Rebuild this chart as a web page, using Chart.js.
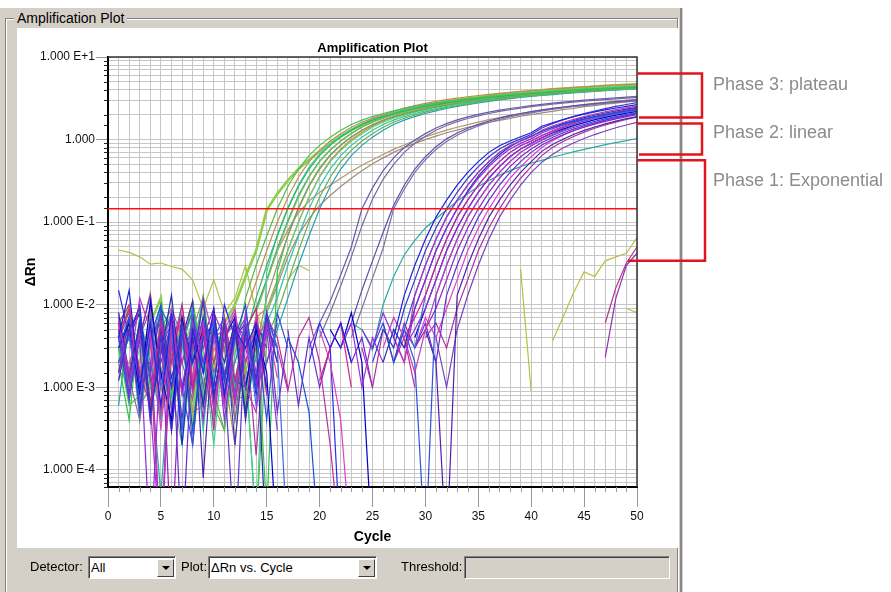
<!DOCTYPE html>
<html>
<head>
<meta charset="utf-8">
<title>Amplification Plot</title>
<script src="https://cdn.jsdelivr.net/npm/chart.js@4.4.1/dist/chart.umd.min.js"></script>
<style>
  html, body { margin: 0; padding: 0; background: #fff; }
  body { width: 891px; height: 592px; position: relative; overflow: hidden; font-family: Arial, "Liberation Sans", sans-serif; }
  .abs { position: absolute; }
  #panel { left: 0; top: 8px; width: 683px; height: 584px; background: #d4d0c8; }
  #panel-edge { left: 680px; top: 8px; width: 2px; height: 584px; background: #8a8884; }
  #group { left: 5px; top: 18px; width: 671px; height: 580px; border: 1px solid #808080; box-shadow: 1px 1px 0 #fff, inset 1px 1px 0 #fff; }
  #caption { left: 14px; top: 10px; padding: 0 3px; background: #d4d0c8; font-size: 14px; line-height: 16px; color: #000; }
  #plot-bg { left: 17px; top: 28px; width: 661px; height: 520px; background: #fff; }
  #chart { position: absolute; left: 0; top: 0; z-index: 1; }
  #title { left: 108px; top: 40px; width: 529px; text-align: center; font-weight: bold; font-size: 13px; z-index: 2; }
  .phase { left: 713px; font-size: 18px; color: #8c8c8c; z-index: 2; }
  .label { top: 558px; font-size: 13px; line-height: 18px; color: #000; z-index: 2; }
  .combo { top: 556px; height: 23px; box-sizing: border-box; background: #fff; border: 1px solid; border-color: #808080 #fff #fff #808080; box-shadow: inset 1px 1px 0 #404040; z-index: 2; }
  .combo span { position: absolute; left: 2px; top: 2px; font-size: 13px; line-height: 17px; }
  .btn { position: absolute; right: 1px; top: 2px; width: 17px; height: 18px; box-sizing: border-box; background: #d4d0c8; border: 1px solid; border-color: #fff #404040 #404040 #fff; }
  .btn::after { content: ''; position: absolute; left: 4px; top: 6px; border-left: 4px solid transparent; border-right: 4px solid transparent; border-top: 4px solid #000; }
  .field { top: 556px; height: 23px; box-sizing: border-box; background: #d4d0c8; border: 1px solid; border-color: #808080 #fff #fff #808080; box-shadow: inset 1px 1px 0 #404040; z-index: 2; }
</style>
</head>
<body>
<div class="abs" id="panel"></div>
<div class="abs" id="group"></div>
<div class="abs" id="panel-edge"></div>
<div class="abs" id="caption">Amplification Plot</div>
<div class="abs" id="plot-bg"></div>
<canvas id="chart" width="891" height="592"></canvas>
<div class="abs" id="title">Amplification Plot</div>
<div class="abs phase" style="top:74px">Phase 3: plateau</div>
<div class="abs phase" style="top:122px">Phase 2: linear</div>
<div class="abs phase" style="top:170px">Phase 1: Exponential</div>
<div class="abs label" style="left:30px">Detector:</div>
<div class="abs combo" style="left:88px;width:88px"><span>All</span><div class="btn"></div></div>
<div class="abs label" style="left:181px">Plot:</div>
<div class="abs combo" style="left:208px;width:169px"><span>ΔRn vs. Cycle</span><div class="btn"></div></div>
<div class="abs label" style="left:401px">Threshold:</div>
<div class="abs field" style="left:464px;width:206px"></div>
<script>
'use strict';

// ************************** DATA ****************************************** //
const cycles = [
  1, 2, 3, 4, 5, 6, 7, 8, 9, 10,
  11, 12, 13, 14, 15, 16, 17, 18, 19, 20,
  21, 22, 23, 24, 25, 26, 27, 28, 29, 30,
  31, 32, 33, 34, 35, 36, 37, 38, 39, 40,
  41, 42, 43, 44, 45, 46, 47, 48, 49, 50
];
const threshold = 0.145;
const yLogMin = 6.2e-5;
const yLogMax = 10;

// phase brackets (ΔRn values at top / bottom of each bracket)
const phaseNames = ['Phase 3: plateau', 'Phase 2: linear', 'Phase 1: Exponential'];
const phaseTop = [6.3, 1.56, 0.56];
const phaseBottom = [1.85, 0.66, 0.034];

// early samples (green group)
const g1 = [
  4e-3, 9e-3, 1.3e-3, 6e-3, 1.2e-2, 7e-4, 5e-3, 4e-4, 7e-3, 2e-3,
  6e-3, 1e-2, 2.2e-2, 4.5e-2, 0.14, 0.22, 0.32, 0.44, 0.57, 0.72,
  0.9, 1.1, 1.3, 1.5, 1.7, 1.9, 2.08, 2.25, 2.42, 2.58,
  2.73, 2.88, 3.02, 3.15, 3.28, 3.4, 3.52, 3.63, 3.74, 3.85,
  3.95, 4.05, 4.14, 4.23, 4.31, 4.39, 4.47, 4.54, 4.61, 4.68
];
const g2 = [
  3e-3, 6e-4, 8e-4, 4e-3, 1.5e-3, 6e-3, 3e-4, 1.1e-2, 2e-3, 9e-4,
  3e-4, 2.5e-3, 1.2e-2, 3e-2, 6.8e-2, 0.145, 0.27, 0.44, 0.64, 0.85,
  1.07, 1.3, 1.52, 1.72, 1.9, 2.07, 2.23, 2.38, 2.52, 2.65,
  2.78, 2.9, 3.02, 3.13, 3.23, 3.33, 3.42, 3.51, 3.6, 3.68,
  3.76, 3.84, 3.91, 3.98, 4.05, 4.12, 4.18, 4.24, 4.3, 4.36
];
const g3 = [
  6e-3, 1.3e-3, 4e-3, 1.4e-2, 9e-4, 2e-3, 8e-3, 5e-4, 6e-4, 3e-3,
  1.5e-3, 2e-4, 8e-3, 1.9e-2, 4.5e-2, 0.1, 0.2, 0.35, 0.54, 0.74,
  0.96, 1.18, 1.41, 1.62, 1.82, 2.0, 2.2, 2.4, 2.58, 2.75,
  2.9, 3.05, 3.18, 3.3, 3.42, 3.53, 3.63, 3.73, 3.83, 3.92,
  4.01, 4.1, 4.18, 4.26, 4.34, 4.42, 4.49, 4.56, 4.63, 4.7
];
const g4 = [
  2e-3, 7e-3, 6e-4, 1e-3, 5e-3, 9e-3, 4e-4, 2.5e-3, 1.3e-2, 1.2e-3,
  6e-3, 9e-4, 4e-3, 1.2e-2, 3e-2, 6.8e-2, 0.145, 0.27, 0.44, 0.64,
  0.85, 1.07, 1.3, 1.52, 1.72, 1.9, 2.07, 2.23, 2.38, 2.52,
  2.65, 2.78, 2.9, 3.02, 3.13, 3.23, 3.33, 3.42, 3.51, 3.6,
  3.68, 3.76, 3.84, 3.91, 3.98, 4.05, 4.12, 4.18, 4.24, 4.3
];
const g5 = [
  8e-3, 1.5e-3, 5e-3, 6e-4, 3e-3, 1e-3, 2e-4, 7e-3, 3e-3, 2e-4,
  4e-3, 1e-3, 2e-3, 2e-5, 2.5e-2, 7e-2, 0.15, 0.28, 0.46, 0.67,
  0.88, 1.1, 1.33, 1.55, 1.76, 1.95, 2.13, 2.3, 2.46, 2.61,
  2.75, 2.88, 3.01, 3.13, 3.24, 3.35, 3.45, 3.55, 3.64, 3.73,
  3.82, 3.9, 3.98, 4.06, 4.13, 4.2, 4.27, 4.34, 4.4, 4.46
];
const g6 = [
  5e-3, 1e-2, 1.4e-3, 7e-3, 5e-4, 2e-3, 3e-3, 6e-3, 8e-4, 8e-3,
  1.3e-3, 5e-3, 6e-4, 8e-3, 1.9e-2, 4.5e-2, 0.1, 0.2, 0.35, 0.54,
  0.74, 0.96, 1.18, 1.41, 1.62, 1.81, 1.98, 2.15, 2.3, 2.45,
  2.58, 2.71, 2.84, 2.96, 3.07, 3.18, 3.28, 3.37, 3.46, 3.55,
  3.64, 3.72, 3.8, 3.87, 3.94, 4.01, 4.08, 4.15, 4.21, 4.27
];
const g7 = [
  3e-3, 7e-4, 6e-3, 1.5e-3, 5e-5, 3e-3, 1e-2, 1.2e-3, 2e-3, 4e-4,
  7e-3, 1e-3, 5e-3, 9e-3, 2e-2, 4.8e-2, 0.105, 0.21, 0.36, 0.55,
  0.75, 0.97, 1.19, 1.42, 1.63, 1.82, 2.0, 2.17, 2.33, 2.48,
  2.62, 2.75, 2.88, 3.0, 3.11, 3.22, 3.32, 3.42, 3.51, 3.6,
  3.69, 3.77, 3.85, 3.93, 4.0, 4.07, 4.14, 4.21, 4.28, 4.34
];
const g8 = [
  1.5e-3, 6e-3, 4e-4, 3e-3, 8e-3, 9e-4, 2e-3, 5e-3, 1.2e-2, 6e-4,
  3e-4, 4e-3, 1.3e-3, 3e-3, 1.2e-2, 3e-2, 6.8e-2, 0.145, 0.27, 0.44,
  0.64, 0.85, 1.07, 1.3, 1.52, 1.72, 1.9, 2.07, 2.23, 2.38,
  2.52, 2.65, 2.78, 2.9, 3.02, 3.13, 3.23, 3.33, 3.42, 3.51,
  3.6, 3.68, 3.76, 3.84, 3.91, 3.98, 4.05, 4.12, 4.18, 4.24
];
const g9 = [
  2e-3, 4e-4, 7e-3, 1e-3, 5e-3, 6e-4, 3e-3, 1.1e-2, 1.5e-3, 2e-3,
  5e-3, 7e-4, 8e-4, 6e-3, 3e-5, 2.5e-2, 7e-2, 0.15, 0.28, 0.45,
  0.65, 0.86, 1.08, 1.3, 1.5, 1.7, 1.88, 2.05, 2.2, 2.35,
  2.49, 2.62, 2.74, 2.86, 2.97, 3.08, 3.18, 3.28, 3.37, 3.46,
  3.55, 3.63, 3.71, 3.79, 3.86, 3.93, 4.0, 4.07, 4.13, 4.19
];
const g10 = [
  7e-3, 1e-3, 3e-3, 5e-4, 4e-3, 8e-3, 2e-4, 3e-3, 1.2e-3, 2e-3,
  4e-3, 9e-3, 6e-4, 2.5e-3, 8e-3, 1.9e-2, 4.5e-2, 0.1, 0.2, 0.35,
  0.54, 0.74, 0.96, 1.18, 1.41, 1.62, 1.81, 1.98, 2.15, 2.3,
  2.45, 2.58, 2.71, 2.84, 2.96, 3.07, 3.18, 3.28, 3.37, 3.46,
  3.55, 3.64, 3.72, 3.8, 3.87, 3.94, 4.01, 4.08, 4.15, 4.21
];
const g11 = [
  3e-3, 5e-3, 7e-4, 9e-3, 1.5e-3, 3e-4, 5e-3, 1e-3, 6e-3, 2e-3,
  8e-4, 6e-3, 1.4e-3, 7e-3, 9e-3, 2e-2, 4.6e-2, 0.1, 0.2, 0.36,
  0.56, 0.77, 1.0, 1.23, 1.46, 1.68, 1.88, 2.06, 2.23, 2.39,
  2.54, 2.68, 2.81, 2.94, 3.06, 3.18, 3.29, 3.4, 3.5, 3.6,
  3.7, 3.79, 3.88, 3.96, 4.04, 4.12, 4.2, 4.27, 4.34, 4.41
];
const g12 = [
  1.2e-3, 5e-3, 4e-3, 6e-4, 3e-3, 7e-3, 9e-4, 5e-3, 3e-4, 6e-3,
  1.5e-3, 4e-3, 5e-4, 2.5e-3, 6e-3, 1.2e-2, 3e-2, 6.8e-2, 0.145, 0.27,
  0.44, 0.64, 0.85, 1.07, 1.3, 1.52, 1.72, 1.9, 2.07, 2.23,
  2.38, 2.52, 2.65, 2.78, 2.9, 3.02, 3.13, 3.23, 3.33, 3.42,
  3.51, 3.6, 3.68, 3.76, 3.84, 3.91, 3.98, 4.05, 4.12, 4.18
];
const g13 = [
  4e-3, 8e-3, 9e-4, 5e-3, 4e-4, 2e-3, 6e-3, 1.1e-3, 7e-3, 6e-4,
  5e-3, 4e-4, 2e-3, 2e-5, 4e-3, 8e-3, 1.9e-2, 4.5e-2, 0.1, 0.2,
  0.35, 0.54, 0.74, 0.96, 1.18, 1.41, 1.62, 1.81, 1.98, 2.15,
  2.3, 2.45, 2.58, 2.71, 2.84, 2.96, 3.07, 3.18, 3.28, 3.37,
  3.46, 3.55, 3.64, 3.72, 3.8, 3.87, 3.94, 4.01, 4.08, 4.15
];
const g14 = [
  6e-4, 6e-3, 1.5e-3, 3e-3, 1e-2, 8e-4, 5e-3, 2e-3, 4e-4, 7e-3,
  1.2e-3, 5e-3, 7e-4, 6e-3, 2e-3, 5e-3, 1.2e-2, 3e-2, 6.8e-2, 0.145,
  0.27, 0.44, 0.64, 0.85, 1.07, 1.3, 1.52, 1.72, 1.9, 2.07,
  2.23, 2.38, 2.52, 2.65, 2.78, 2.9, 3.02, 3.13, 3.23, 3.33,
  3.42, 3.51, 3.6, 3.68, 3.76, 3.84, 3.91, 3.98, 4.05, 4.12
];
const g15 = [
  3e-3, 1e-3, 2e-3, 7e-3, 5e-4, 3e-3, 6e-3, 8e-4, 5e-3, 1.5e-3,
  6e-3, 1e-3, 5e-3, 9e-3, 2e-2, 4.5e-2, 8e-2, 0.13, 0.18, 0.23,
  0.28, 0.34, 0.41, 0.49, 0.57, 0.66, 0.76, 0.86, 0.97, 1.08,
  1.19, 1.3, 1.41, 1.52, 1.63, 1.74, 1.85, 1.96, 2.06, 2.16,
  2.26, 2.36, 2.46, 2.56, 2.65, 2.74, 2.83, 2.92, 3.0, 3.08
];
const g16 = [
  1.3e-3, 2e-3, 4e-3, 6e-4, 8e-3, 2.5e-3, 3e-4, 4e-3, 6e-3, 1e-3,
  2e-3, 5e-3, 9e-4, 3e-3, 8e-3, 1.7e-2, 3.8e-2, 7e-2, 0.11, 0.16,
  0.21, 0.27, 0.34, 0.42, 0.51, 0.6, 0.7, 0.8, 0.9, 1.0,
  1.1, 1.21, 1.3, 1.41, 1.5, 1.62, 1.71, 1.8, 1.92, 2.0,
  2.1, 2.19, 2.3, 2.38, 2.5, 2.58, 2.68, 2.77, 2.86, 2.95
];

// middle samples (slate purple)
const m1 = [
  4e-3, 9e-4, 6e-3, 1.5e-3, 5e-3, 3e-4, 4e-3, 8e-3, 1e-3, 5e-3,
  6e-4, 6e-3, 2e-3, null, null, null, null, null, 3e-3, 6e-3,
  1.1e-2, 2.3e-2, 5e-2, 0.145, 0.26, 0.42, 0.6, 0.8, 0.99, 1.18,
  1.38, 1.56, 1.73, 1.88, 2.02, 2.15, 2.27, 2.38, 2.48, 2.58,
  2.67, 2.76, 2.84, 2.92, 3.0, 3.07, 3.14, 3.21, 3.27, 3.33
];
const m2 = [
  6e-3, 1.2e-3, 4e-3, 9e-3, 5e-4, 5e-3, 2e-3, 7e-4, 6e-3, 1.5e-3,
  3e-3, 4e-4, 5e-3, 1.2e-3, null, null, null, null, null, 4e-3,
  8e-3, 1.7e-2, 3.8e-2, 9e-2, 0.19, 0.33, 0.5, 0.7, 0.9, 1.1,
  1.3, 1.48, 1.65, 1.8, 1.94, 2.07, 2.19, 2.3, 2.4, 2.5,
  2.59, 2.68, 2.76, 2.84, 2.91, 2.98, 3.05, 3.11, 3.17, 3.23
];
const m3 = [
  1.5e-3, 7e-3, 6e-4, 4e-3, 6e-3, 1e-3, 5e-3, 2e-4, 4e-3, 6e-3,
  8e-4, 4e-3, 7e-3, null, null, null, null, null, null, null,
  null, 3e-3, 6e-3, 1.5e-2, 3.4e-2, 7.5e-2, 0.16, 0.28, 0.44, 0.62,
  0.82, 1.02, 1.2, 1.37, 1.53, 1.68, 1.82, 1.95, 2.07, 2.18,
  2.29, 2.39, 2.48, 2.57, 2.65, 2.73, 2.81, 2.88, 2.95, 3.02
];
const m4 = [
  5e-3, 1.3e-3, 4e-4, 6e-3, 3e-3, 8e-3, 9e-4, 3e-3, 5e-3, 6e-4,
  4e-3, 6e-3, 1e-3, 5e-3, null, null, null, null, null, null,
  null, null, 4e-3, 9e-3, 2.1e-2, 4.8e-2, 0.145, 0.25, 0.4, 0.57,
  0.76, 0.95, 1.13, 1.3, 1.46, 1.61, 1.75, 1.88, 2.0, 2.11,
  2.22, 2.32, 2.41, 2.5, 2.58, 2.66, 2.74, 2.81, 2.88, 2.95
];

// late samples (blue / magenta / violet group)
const late1 = [
  4e-3, 1.5e-2, 1e-3, 6e-3, 6e-4, 8e-3, 2e-4, 5e-3, 1.5e-3, 9e-3,
  8e-4, 5e-3, 3e-3, 6e-3, 1e-3, null, null, null, null, null,
  3e-3, 6e-3, 2e-3, null, null, null, 4e-3, 1.3e-2, 3e-2, 6.2e-2,
  0.115, 0.185, 0.28, 0.4, 0.54, 0.7, 0.84, 0.96, 1.08, 1.21,
  1.45, 1.6, 1.75, 1.9, 2.03, 2.16, 2.29, 2.41, 2.53, 2.65
];
const late2 = [
  1.2e-3, 5e-3, 9e-3, 4e-4, 4e-3, 1e-3, 6e-3, 2e-3, 1.1e-2, 7e-4,
  6e-3, 2e-4, 5e-3, 1.3e-3, 7e-3, 2e-3, null, null, null, null,
  null, null, null, null, 2e-3, 5e-3, 3e-3, 9e-3, 2e-2, 4.5e-2,
  8.5e-2, 0.145, 0.23, 0.34, 0.47, 0.62, 0.77, 0.9, 1.02, 1.15,
  1.38, 1.56, 1.73, 1.9, 2.06, 2.22, 2.37, 2.52, 2.66, 2.8
];
const late3 = [
  6e-3, 1.5e-3, 1.2e-2, 5e-3, 1e-5, 7e-3, 8e-4, 3e-3, 6e-3, 5e-4,
  4e-3, 8e-3, 1e-3, 5e-4, 6e-3, null, null, null, null, null,
  null, null, null, null, null, null, 4e-3, 2e-3, 1.3e-2, 3e-2,
  6.2e-2, 0.115, 0.185, 0.28, 0.4, 0.54, 0.7, 0.84, 0.96, 1.08,
  1.3, 1.46, 1.61, 1.76, 1.9, 2.04, 2.17, 2.3, 2.42, 2.54
];
const late4 = [
  3e-3, 7e-3, 5e-4, 4e-3, 1e-2, 1e-3, 5e-3, 3e-4, 4e-3, 6e-3,
  1.2e-3, 4e-3, 1e-2, 9e-4, null, null, 4e-3, 2e-3, 5e-4, 1e-5,
  null, null, null, null, 3e-3, 6e-3, 2e-3, 5e-3, 1.3e-2, 3e-2,
  6.2e-2, 0.115, 0.185, 0.28, 0.4, 0.54, 0.7, 0.84, 0.96, 1.08,
  1.26, 1.4, 1.53, 1.66, 1.78, 1.9, 2.01, 2.12, 2.22, 2.32
];
const late5 = [
  5e-3, 8e-4, 4e-3, 1e-5, 3e-3, 6e-3, 1e-3, 5e-3, 3e-3, 7e-3,
  4e-4, 4e-3, 6e-3, 1e-3, 5e-3, 3e-4, null, null, null, null,
  null, null, null, 5e-3, 3e-3, 8e-3, 4e-3, 2e-3, 9e-3, 2e-2,
  4.5e-2, 8.5e-2, 0.145, 0.23, 0.34, 0.47, 0.62, 0.77, 0.9, 1.02,
  1.2, 1.35, 1.49, 1.63, 1.76, 1.88, 2.0, 2.11, 2.22, 2.33
];
const late6 = [
  8e-3, 1.4e-3, 6e-3, 5e-4, 2.5e-3, 1.3e-2, 9e-4, 4e-3, 6e-4, 5e-3,
  2e-3, 6e-3, 4e-4, 4e-3, 1e-5, null, null, null, null, null,
  null, null, null, null, null, 2e-3, 5e-3, 3e-3, 9e-3, 2e-2,
  4.5e-2, 8.5e-2, 0.145, 0.24, 0.36, 0.5, 0.66, 0.82, 0.97, 1.1,
  1.26, 1.41, 1.56, 1.7, 1.84, 1.97, 2.1, 2.22, 2.34, 2.45
];
const late7 = [
  4e-3, 9e-3, 1.5e-3, 6e-4, 6e-3, 2e-3, 1e-2, 1e-3, 5e-3, 3e-4,
  7e-3, 1.2e-3, 5e-3, 9e-3, 8e-4, null, null, null, null, 1.2e-3,
  3e-3, 6e-3, 1e-3, null, null, null, null, 4e-3, 7e-3, 1.3e-2,
  3e-2, 6.2e-2, 0.115, 0.185, 0.28, 0.4, 0.54, 0.7, 0.84, 0.96,
  1.12, 1.28, 1.44, 1.59, 1.74, 1.88, 2.02, 2.15, 2.28, 2.4
];
const late8 = [
  2e-3, 4e-3, 7e-4, 7e-3, 1e-3, 5e-3, 3e-4, 9e-3, 1.5e-3, 6e-3,
  9e-4, 2e-3, 6e-3, 6e-4, 7e-3, 3e-3, 1e-5, null, null, null,
  null, null, null, null, null, null, 2e-3, 5e-3, 3e-3, 1.3e-2,
  3e-2, 6.2e-2, 0.115, 0.185, 0.28, 0.4, 0.54, 0.7, 0.84, 0.96,
  1.12, 1.26, 1.4, 1.54, 1.67, 1.8, 1.92, 2.04, 2.15, 2.26
];
const late9 = [
  7e-3, 1.2e-3, 5e-3, 6e-4, 1e-5, 8e-3, 2e-3, 6e-3, 4e-4, 4e-3,
  5e-3, 8e-4, 8e-3, 1.5e-3, 6e-3, 2e-3, null, null, null, null,
  null, 3e-3, 6e-3, 1e-3, 4e-3, 2e-3, null, 3e-3, 5e-3, 9e-3,
  2e-2, 4.5e-2, 8.5e-2, 0.145, 0.23, 0.34, 0.47, 0.62, 0.77, 0.9,
  1.06, 1.22, 1.38, 1.53, 1.68, 1.82, 1.96, 2.09, 2.22, 2.34
];
const late10 = [
  3e-3, 6e-3, 8e-4, 1.1e-2, 1.5e-3, 4e-4, 7e-3, 2e-3, 5e-3, 8e-4,
  4e-3, 7e-3, 1e-3, 5e-3, 1.5e-3, 1e-5, null, null, null, null,
  5e-3, 3e-3, 8e-3, 2e-3, 1e-5, null, null, null, 4e-3, 9e-3,
  2e-2, 4.5e-2, 8.5e-2, 0.145, 0.23, 0.34, 0.47, 0.62, 0.77, 0.9,
  1.05, 1.2, 1.34, 1.48, 1.61, 1.74, 1.86, 1.98, 2.09, 2.2
];
const late11 = [
  5e-3, 8e-3, 1e-3, 6e-3, 5e-4, 4e-3, 6e-3, 1.3e-3, 1.2e-2, 4e-3,
  6e-4, 5e-3, 2e-3, 7e-3, 9e-4, null, null, null, null, null,
  null, null, null, null, null, 3e-3, 7e-3, 4e-3, 1.5e-3, 5e-3,
  1.3e-2, 3e-2, 6.2e-2, 0.115, 0.185, 0.28, 0.4, 0.54, 0.7, 0.84,
  1.0, 1.15, 1.3, 1.45, 1.6, 1.74, 1.88, 2.01, 2.14, 2.26
];
const late12 = [
  4e-3, 7e-4, 6e-3, 1.5e-3, 9e-3, 5e-3, 1e-3, 2e-4, 6e-3, 4e-3,
  7e-3, 1.2e-3, 1e-3, 5e-3, 4e-4, 8e-3, 3e-3, null, null, null,
  null, null, null, null, null, null, null, 5e-3, 2e-3, 1e-5,
  1.3e-2, 3e-2, 6.2e-2, 0.115, 0.185, 0.28, 0.4, 0.54, 0.7, 0.84,
  0.98, 1.12, 1.26, 1.4, 1.53, 1.66, 1.78, 1.9, 2.01, 2.12
];
const late13 = [
  1.5e-3, 5e-3, 6e-4, 4e-3, 7e-3, 1e-5, 5e-3, 1e-3, 4e-3, 9e-3,
  7e-4, 6e-3, 4e-3, 1.2e-3, 5e-3, 3e-3, null, null, null, null,
  null, null, null, null, null, null, 2e-3, 6e-3, 3e-3, 5e-3,
  9e-3, 2e-2, 4.5e-2, 8.5e-2, 0.145, 0.23, 0.34, 0.47, 0.62, 0.77,
  0.92, 1.06, 1.2, 1.34, 1.47, 1.6, 1.72, 1.84, 1.95, 2.06
];
const late14 = [
  6e-3, 8e-4, 4e-3, 1.3e-2, 1.2e-3, 5e-3, 4e-4, 7e-3, 2e-3, 5e-3,
  1.5e-3, 1e-5, 6e-3, 1e-3, 8e-3, 5e-4, 4e-3, null, null, null,
  null, null, null, null, null, null, null, null, 3e-3, 6e-3,
  2e-3, 1.3e-2, 3e-2, 6.2e-2, 0.115, 0.185, 0.28, 0.4, 0.54, 0.7,
  0.86, 1.0, 1.14, 1.28, 1.41, 1.54, 1.66, 1.78, 1.9, 2.01
];
const late15 = [
  4e-3, 7e-3, 9e-4, 5e-3, 3e-4, 9e-3, 4e-3, 1.2e-3, 6e-3, 7e-4,
  5e-3, 9e-3, 1e-3, 4e-3, 6e-3, 1.3e-3, null, null, null, 5e-3,
  2e-3, 4e-4, 1e-5, null, null, null, null, null, 3e-3, 7e-3,
  4e-3, 9e-3, 2e-2, 4.5e-2, 8.5e-2, 0.145, 0.23, 0.34, 0.47, 0.62,
  0.8, 0.97, 1.13, 1.29, 1.44, 1.58, 1.72, 1.85, 1.98, 2.1
];
const late16 = [
  2e-3, 4e-3, 8e-3, 6e-4, 5e-3, 1.3e-3, 4e-3, 1.1e-2, 8e-5, 6e-3,
  1.2e-3, 5e-3, 5e-4, 6e-3, 3e-3, null, null, null, null, null,
  null, null, null, null, null, null, null, null, null, 5e-3,
  2e-3, 1e-5, 1.3e-2, 3e-2, 6.2e-2, 0.115, 0.185, 0.28, 0.4, 0.54,
  0.72, 0.87, 1.01, 1.15, 1.29, 1.42, 1.55, 1.67, 1.79, 1.9
];
const late17 = [
  5e-3, 1.2e-3, 6e-3, 4e-4, 4e-3, 7e-3, 9e-4, 5e-3, 2e-3, 8e-3,
  4e-3, 6e-4, 5e-3, 1.5e-4, 7e-3, 4e-3, 1e-3, null, null, null,
  null, null, null, 3e-3, 1e-3, 5e-3, null, null, null, 4e-3,
  6e-3, 3e-3, 9e-3, 2e-2, 4.5e-2, 8.5e-2, 0.145, 0.23, 0.34, 0.47,
  0.64, 0.8, 0.95, 1.09, 1.23, 1.37, 1.5, 1.63, 1.75, 1.87
];
const late18 = [
  3e-3, 6e-3, 1.3e-3, 2e-3, 8e-3, 5e-4, 5e-3, 2e-3, 4e-3, 6e-3,
  7e-4, 7e-3, 3e-3, 1e-3, 2e-3, 6e-3, null, null, null, null,
  null, null, null, null, null, null, null, null, null, null,
  4e-3, 1e-3, 5e-3, 1.3e-2, 3e-2, 6.2e-2, 0.115, 0.185, 0.28, 0.4,
  0.53, 0.66, 0.79, 0.91, 1.03, 1.15, 1.27, 1.39, 1.5, 1.62
];

// baseline-only wells
const noise1 = [
  1.5e-2, 4e-3, 1e-2, 6e-4, 6e-3, 3e-4, 5e-3, 2e-3, 7e-3, 1e-3,
  1e-2, 4e-3, 6e-3, 8e-4, 8e-3, 3e-3, null, null, 2e-3, 6e-3,
  3e-3, 1e-5, null, null, null, null, null, null, null, null,
  null, null, null, null, null, null, null, null, null, null,
  null, null, null, null, null, null, null, null, null, null
];
const noise2 = [
  6e-3, 1e-2, 1.5e-3, 2e-3, 1e-5, 4e-3, 7e-3, 9e-4, 5e-3, 2e-3,
  6e-3, 7e-4, 4e-3, 1e-3, 5e-3, 3e-3, 9e-4, 4e-3, 7e-3, 2e-3,
  2e-4, 1e-5, null, null, null, 6e-3, 2e-3, 4e-3, 1e-3, null,
  null, null, null, null, null, null, null, null, null, null,
  null, null, null, null, null, null, null, null, null, null
];
const noise3 = [
  3e-3, 5e-3, 8e-3, 1.2e-3, 2e-3, 6e-3, 1e-5, 4e-3, 6e-4, 5e-3,
  1.3e-3, 7e-3, 2e-3, 5e-3, 4e-3, null, 5e-3, 6e-4, 4e-3, 1e-3,
  3e-3, 6e-3, 2e-3, 4e-3, 1e-3, null, null, null, null, null,
  null, null, null, null, null, null, null, null, null, null,
  null, null, null, null, null, null, null, null, null, null
];

// slow teal well
const teal1 = [
  5e-3, 1e-3, 7e-3, 2e-3, 4e-4, 6e-3, 3e-3, 9e-3, 7e-4, 5e-3,
  3e-3, 1.2e-3, 6e-3, 2e-3, null, null, null, null, null, null,
  null, null, 6e-3, 5e-3, 2.8e-3, 1e-2, 2.2e-2, 4e-2, 6e-2, 8.5e-2,
  0.11, 0.14, 0.18, 0.22, 0.27, 0.32, 0.37, 0.42, 0.47, 0.52,
  0.56, 0.61, 0.66, 0.71, 0.76, 0.81, 0.87, 0.92, 0.97, 1.03
];

// no-template control (yellow-green)
const ntc1 = [
  4.6e-2, 4.3e-2, 3.8e-2, 3.1e-2, 3.2e-2, 2.9e-2, 2.7e-2, 2e-2, 9e-3, 2e-2,
  8e-3, 1.2e-2, 3e-2, 8e-3, 4e-3, null, 2e-2, 3e-2, 2.6e-2, null,
  null, null, null, null, null, null, null, null, null, null,
  null, null, null, null, null, null, null, null, 2.7e-2, 9e-4,
  null, 3.6e-3, 7e-3, 1.4e-2, 2.5e-2, 2.2e-2, 3.4e-2, 3.8e-2, 4.2e-2, 6.5e-2
];
const ntc2 = [
  null, null, null, null, null, null, null, null, null, null,
  null, null, null, null, null, null, null, null, null, null,
  null, null, null, null, null, null, null, null, null, null,
  null, null, null, null, null, null, null, null, null, null,
  null, null, null, null, null, null, null, null, 9e-3, 8e-3
];

// very late wells at the right edge
const edge1 = [
  null, null, null, null, null, null, null, null, null, null,
  null, null, null, null, null, null, null, null, null, null,
  null, null, null, null, null, null, null, null, null, null,
  null, null, null, null, null, null, null, null, null, null,
  null, null, null, null, null, null, 2.3e-3, 1.2e-2, 3e-2, 4.2e-2
];
const edge2 = [
  null, null, null, null, null, null, null, null, null, null,
  null, null, null, null, null, null, null, null, null, null,
  null, null, null, null, null, null, null, null, null, null,
  null, null, null, null, null, null, null, null, null, null,
  null, null, null, null, null, null, 6e-3, 1.6e-2, 3.2e-2, 5e-2
];

// ************************** DATASETS ************************************** //
// [values, colour, line width]; first entries are drawn on top
let wells = [
  [late1, '#2020e0'], [late2, '#3636c8'], [late3, '#c030c0'], [late4, '#1a50d8'],
  [late5, '#8a2be2'], [late6, '#2030b0'], [late7, '#d02090'], [late8, '#4169e1'],
  [late9, '#a030d0'], [late10, '#0000cd'], [late11, '#c040b0'], [late12, '#3050e0'],
  [late13, '#9020c0'], [late14, '#6030d0'], [late15, '#e040c0'], [late16, '#5020b0'],
  [late17, '#b030a0'], [late18, '#7a3fc0'],
  [noise1, '#2828f0'], [noise2, '#c02ca0'], [noise3, '#6a2ad0'],
  [edge1, '#9030b0'], [edge2, '#b03090'],
  [m1, '#6a5ab0'], [m2, '#7a6a9a'], [m3, '#5c4fa8'], [m4, '#8070a8'],
  [teal1, '#20b0a0'],
  [g2, '#4cbf4c'], [g3, '#c08a50'], [g4, '#2fb36b'], [g5, '#3ccf8e'],
  [g6, '#7cc242'], [g7, '#1fa89a'], [g8, '#9a8f6a'], [g9, '#33c24d'],
  [g10, '#5fd07a'], [g11, '#d08840'], [g12, '#2ec4a8'], [g13, '#66b04a'],
  [g14, '#22a0b0'], [g15, '#b09870'], [g16, '#a08c7c'],
  [g1, '#8ed04a', 2.6],
  [ntc1, '#b8c040'], [ntc2, '#b8c040']
];

let datasets = [{
  data: [{x: 0, y: threshold}, {x: 50, y: threshold}],
  borderColor: '#ff1010',
  borderWidth: 1.6
}];

for(let i = 0; i < wells.length; i++) {
  datasets.push({
    data: wells[i][0],
    borderColor: wells[i][1],
    borderWidth: wells[i][2] || 1.2
  });
}

// ************************** HELPERS *************************************** //
function isDecade(value) {
  let e = Math.log10(value);
  return Math.abs(e - Math.round(e)) < 1e-6;
}

function mantissa(value) {
  return value / Math.pow(10, Math.floor(Math.log10(value) + 1e-9));
}

function decadeLabel(value) {
  if(!isDecade(value)) {
    return '';
  }
  let n = Math.round(Math.log10(value));
  if(n === 0) {
    return '1.000';
  }
  return '1.000 E' + (n > 0 ? '+' : '') + n;
}

// frame, minor ticks and phase brackets
const plotExtras = {
  id: 'plotExtras',
  afterDraw(chart) {
    let ctx = chart.ctx;
    let a = chart.chartArea;
    let x = chart.scales.x;
    let y = chart.scales.y;

    ctx.save();
    ctx.strokeStyle = '#333';
    ctx.lineWidth = 1.5;
    ctx.beginPath();
    ctx.moveTo(a.left, a.top);
    ctx.lineTo(a.right, a.top);
    ctx.lineTo(a.right, a.bottom);
    ctx.stroke();

    ctx.lineWidth = 1;
    ctx.strokeStyle = '#222';
    y.ticks.forEach(t => {
      if(isDecade(t.value)) return;
      let py = Math.round(y.getPixelForValue(t.value)) + 0.5;
      ctx.beginPath();
      ctx.moveTo(a.left - 4, py);
      ctx.lineTo(a.left, py);
      ctx.stroke();
    });
    ctx.strokeStyle = '#999';
    x.ticks.forEach(t => {
      if(t.value % 5 === 0) return;
      let px = Math.round(x.getPixelForValue(t.value)) + 0.5;
      ctx.beginPath();
      ctx.moveTo(px, a.bottom);
      ctx.lineTo(px, a.bottom + 5);
      ctx.stroke();
    });

    // red brackets
    let reach = [65, 65, 68];
    let back = [-2, -2, 9];
    ctx.strokeStyle = '#e2141c';
    ctx.lineWidth = 2.5;
    for(let i = 0; i < phaseNames.length; i++) {
      let y1 = y.getPixelForValue(phaseTop[i]);
      let y2 = y.getPixelForValue(phaseBottom[i]);
      ctx.beginPath();
      ctx.moveTo(a.right, y1);
      ctx.lineTo(a.right + reach[i], y1);
      ctx.lineTo(a.right + reach[i], y2);
      ctx.lineTo(a.right - back[i], y2);
      ctx.stroke();
    }
    ctx.restore();
  }
};

// ************************** CHART ***************************************** //
let chartObj = {
  type: 'line',
  data: {
    labels: cycles,
    datasets: datasets
  },
  options: {
    responsive: false,
    animation: false,
    devicePixelRatio: 1,
    layout: {
      padding: {left: 17, right: 254, top: 57, bottom: 45}
    },
    elements: {
      point: {radius: 0},
      line: {tension: 0}
    },
    plugins: {
      legend: {display: false},
      title: {display: false},
      tooltip: {enabled: false}
    },
    scales: {
      x: {
        type: 'linear',
        min: 0,
        max: 50,
        afterFit: scale => { scale.height = 60; },
        ticks: {
          stepSize: 1,
          autoSkip: false,
          maxRotation: 0,
          padding: 2,
          color: '#111',
          font: {family: 'Arial', size: 12},
          callback: v => (v % 5 === 0 ? v : '')
        },
        grid: {
          color: '#c6c6c6',
          tickLength: 20,
          tickColor: c => (c.tick && c.tick.value % 5 === 0 ? '#9a9a9a' : 'rgba(0,0,0,0)')
        },
        border: {color: '#000', width: 2},
        title: {
          display: true,
          text: 'Cycle',
          color: '#000',
          font: {family: 'Arial', size: 14, weight: 'bold'},
          padding: {top: 0, bottom: 1}
        }
      },
      y: {
        type: 'logarithmic',
        min: yLogMin,
        max: yLogMax,
        afterFit: scale => { scale.width = 91; },
        ticks: {
          autoSkip: false,
          padding: 1,
          color: '#111',
          font: {family: 'Arial', size: 12},
          callback: v => decadeLabel(v)
        },
        grid: {
          color: c => (c.tick && Math.abs(mantissa(c.tick.value) - 1.5) < 0.01 ? 'rgba(0,0,0,0)' : '#c6c6c6'),
          tickLength: 12,
          tickColor: c => (c.tick && isDecade(c.tick.value) ? '#9a9a9a' : 'rgba(0,0,0,0)')
        },
        border: {color: '#000', width: 2},
        title: {
          display: true,
          text: 'ΔRn',
          color: '#000',
          font: {family: 'Arial', size: 14, weight: 'bold'},
          padding: {top: 6, bottom: 0}
        }
      }
    }
  },
  plugins: [plotExtras]
};

new Chart(document.getElementById('chart'), chartObj);
</script>
</body>
</html>
